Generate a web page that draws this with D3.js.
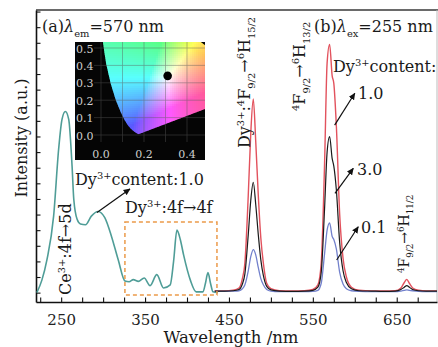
<!DOCTYPE html>
<html>
<head>
<meta charset="utf-8">
<script src="https://cdn.jsdelivr.net/npm/d3@7"></script>
<style>
body { margin: 0; background: #fff; }
svg { display: block; font-family: "DejaVu Serif", serif; }
</style>
</head>
<body>
<div id="chart"></div>
<script>
// (a) excitation spectrum, lambda_em = 570 nm
const excWave = [221, 227, 233, 241, 247, 251, 255, 259, 263, 265, 269, 273, 279, 286, 294, 302, 310, 318, 326, 331,
    336, 342, 349, 356, 364, 372, 380, 384, 388, 392, 396, 404, 411, 419, 422, 425, 428, 431, 437];
const excInt = [0, 0.8, 2.1, 4.9, 9.2, 11.1, 11.6, 11.1, 8.1, 6.0, 4.7, 4.4, 4.35, 4.9, 5.2, 4.8, 3.6, 2.1, 0.75, 0.7,
    0.83, 0.72, 0.94, 0.45, 1.15, 0.3, 0.5, 2.0, 4.0, 3.4, 2.4, 0.8, 0.05, 0.05, 0.6, 1.28, 0.6, 0.05, 0.0];

// (b) emission spectra, lambda_ex = 255 nm
const emWave = [433, 445, 455, 462, 466, 469, 473, 476, 479, 482, 485, 488, 491, 495, 500, 510, 525, 540, 550, 556,
    560, 564, 567, 570, 573, 575, 578, 582, 586, 590, 596, 605, 620, 635, 648, 655, 659, 662, 665, 669, 676, 685, 698];
const emRed = [0.1, 0.1, 0.15, 0.3, 0.9, 1.9, 6.2, 10.2, 12.4, 9.6, 6.2, 3.5, 1.9, 0.6, 0.25, 0.12, 0.1, 0.12, 0.2, 0.5,
    1.9, 8.3, 14.7, 15.9, 13.9, 13.4, 10.7, 5.0, 2.2, 1.0, 0.35, 0.15, 0.1, 0.1, 0.12, 0.3, 0.65, 0.85, 0.6, 0.3, 0.15, 0.1, 0.1];
const emBlack = [0.1, 0.1, 0.12, 0.2, 0.55, 1.2, 3.7, 5.9, 7.07, 5.6, 3.7, 2.1, 1.1, 0.4, 0.18, 0.1, 0.08, 0.1, 0.15, 0.35,
    1.3, 5.4, 9.0, 10.0, 8.6, 8.1, 6.6, 3.2, 1.4, 0.65, 0.25, 0.12, 0.1, 0.08, 0.1, 0.2, 0.35, 0.45, 0.35, 0.2, 0.12, 0.1, 0.1];
const emBlue = [0.08, 0.08, 0.1, 0.12, 0.25, 0.5, 1.4, 2.3, 2.75, 2.4, 1.6, 0.9, 0.5, 0.2, 0.1, 0.06, 0.06, 0.06, 0.08, 0.15,
    0.6, 2.5, 4.0, 4.47, 3.6, 3.4, 2.8, 1.3, 0.55, 0.25, 0.12, 0.08, 0.06, 0.06, 0.06, 0.1, 0.14, 0.18, 0.15, 0.12, 0.08, 0.06, 0.06];

const xTickValues = d3.range(225, 700, 25);
const xLabelValues = [250, 350, 450, 550, 650];
const yTickValues = d3.range(0, 19);

// CIE 1931 inset
const cieLocus = [[0.1741, 0.0050], [0.1714, 0.0051], [0.1644, 0.0109], [0.1566, 0.0177], [0.1440, 0.0297],
    [0.1355, 0.0399], [0.1241, 0.0578], [0.1096, 0.0868], [0.0913, 0.1327], [0.0687, 0.2007], [0.0454, 0.2950],
    [0.0235, 0.4127], [0.0082, 0.5384], [0.0039, 0.6548], [0.0139, 0.7502], [0.0743, 0.8338], [0.1547, 0.8059],
    [0.2296, 0.7543], [0.3016, 0.6923], [0.3731, 0.6245], [0.4441, 0.5547], [0.5125, 0.4866], [0.5752, 0.4242],
    [0.6270, 0.3725], [0.6915, 0.3083], [0.7260, 0.2740], [0.7347, 0.2653]];
const cieTicksX = [0, 0.2, 0.4];
const cieTicksY = [0, 0.1, 0.2, 0.3, 0.4, 0.5];
const cieGridX = [0, 0.1, 0.2, 0.3, 0.4];
const cieGridY = [0, 0.1, 0.2, 0.3, 0.4, 0.5];
const samplePoint = [0.31, 0.34];

const width = 438, height = 347;
const svg = d3.select("#chart").append("svg")
    .attr("width", width)
    .attr("height", height);

const defs = svg.append("defs");
defs.append("marker")
    .attr("id", "arrow")
    .attr("viewBox", "0 0 10 10")
    .attr("refX", 9).attr("refY", 5)
    .attr("markerWidth", 7).attr("markerHeight", 7)
    .attr("markerUnits", "userSpaceOnUse")
    .attr("orient", "auto")
    .append("path").attr("d", "M0,0.5L10,5L0,9.5z").attr("fill", "#111");

const x = d3.scaleLinear().domain([220, 698]).range([36, 437]);
const y = d3.scaleLinear().domain([-0.6, 18.1]).range([302, 10]);

// frame
svg.append("line").attr("x1", 36).attr("x2", 438).attr("y1", 10).attr("y2", 10)
    .attr("stroke", "#6a6a6a").attr("stroke-width", 2);
svg.append("line").attr("x1", 437).attr("x2", 437).attr("y1", 10).attr("y2", 302)
    .attr("stroke", "#bbb").attr("stroke-width", 1);

const xAxis = d3.axisBottom(x)
    .tickValues(xTickValues)
    .tickSizeInner(-4.5).tickSizeOuter(0).tickPadding(12)
    .tickFormat(d => xLabelValues.includes(d) ? d : "");
const yAxis = d3.axisLeft(y)
    .tickValues(yTickValues)
    .tickSizeInner(-4.5).tickSizeOuter(0)
    .tickFormat("");

const gx = svg.append("g").attr("transform", "translate(0,302)").call(xAxis);
const gy = svg.append("g").attr("transform", "translate(36,0)").call(yAxis);
[gx, gy].forEach(g => {
    g.select(".domain").attr("stroke", "#111").attr("stroke-width", 1.6);
    g.selectAll(".tick line").attr("stroke", "#111").attr("stroke-width", 1.1);
    g.selectAll("text").attr("font-family", "DejaVu Serif").attr("font-size", 15).attr("fill", "#222");
});

// spectra
const line = (wave, vals) => d3.line()
    .x((d, i) => x(wave[i]))
    .y(d => y(d))
    .curve(d3.curveMonotoneX)(vals);

svg.append("path").attr("d", line(excWave, excInt))
    .attr("fill", "none").attr("stroke", "#4f9d97").attr("stroke-width", 1.6);
svg.append("path").attr("d", line(emWave, emRed))
    .attr("fill", "none").attr("stroke", "#e2525d").attr("stroke-width", 1.4);
svg.append("path").attr("d", line(emWave, emBlue))
    .attr("fill", "none").attr("stroke", "#7280cc").attr("stroke-width", 1.3);
svg.append("path").attr("d", line(emWave, emBlack))
    .attr("fill", "none").attr("stroke", "#1a1a1a").attr("stroke-width", 1.2);

// dashed box around the Dy 4f-4f lines
svg.append("rect")
    .attr("x", x(326)).attr("y", y(4.52))
    .attr("width", x(435.7) - x(326)).attr("height", y(-0.15) - y(4.52))
    .attr("fill", "none").attr("stroke", "#eb9a4a").attr("stroke-width", 1.5)
    .attr("stroke-dasharray", "4,3");

// arrows
const arrows = [
    [[292.7, 5.13], [332, 6.64]],
    [[576, 10.73], [600, 12.77]],
    [[576.4, 6.36], [598.2, 7.96]],
    [[578.4, 2.09], [604.1, 4.22]]
];
arrows.forEach(([a, b]) => {
    svg.append("line")
        .attr("x1", x(a[0])).attr("y1", y(a[1]))
        .attr("x2", x(b[0])).attr("y2", y(b[1]))
        .attr("stroke", "#111").attr("stroke-width", 1.2)
        .attr("marker-end", "url(#arrow)");
});

// text with sup / sub parts
function richText(parent, parts, size, px, py, rotate) {
    const t = parent.append("text")
        .attr("font-size", size)
        .attr("fill", "#1a1a1a")
        .attr("transform", `translate(${px},${py})` + (rotate ? " rotate(-90)" : ""));
    let shift = 0;
    parts.forEach(([s, k]) => {
        const target = k === "sup" ? -0.38 * size : k === "sub" ? 0.3 * size : 0;
        const ts = t.append("tspan").attr("dy", target - shift).text(s);
        if (k === "sup" || k === "sub") ts.attr("font-size", size * 0.62);
        if (k === "i") ts.attr("font-style", "italic");
        shift = target;
    });
    return t;
}

richText(svg, [["(a)", ""], ["λ", "i"], ["em", "sub"], ["=570 nm", ""]], 16, 42, 32);
richText(svg, [["(b)", ""], ["λ", "i"], ["ex", "sub"], ["=255 nm", ""]], 16, 314, 32);
richText(svg, [["Dy", ""], ["3+", "sup"], ["content:", ""]], 16, 333, 72);
richText(svg, [["1.0", ""]], 16, 358, 99);
richText(svg, [["3.0", ""]], 16, 357, 175);
richText(svg, [["0.1", ""]], 16, 361, 233);
richText(svg, [["Dy", ""], ["3+", "sup"], ["content:1.0", ""]], 16, 75, 185);
richText(svg, [["Dy", ""], ["3+", "sup"], [":4f→4f", ""]], 16, 125, 213);
richText(svg, [["Dy", ""], ["3+", "sup"], [":", ""], ["4", "sup"], ["F", ""], ["9/2", "sub"], ["→", ""],
    ["6", "sup"], ["H", ""], ["15/2", "sub"]], 16, 250, 148, true);
richText(svg, [["4", "sup"], ["F", ""], ["9/2", "sub"], ["→", ""], ["6", "sup"], ["H", ""], ["13/2", "sub"]],
    16, 305, 111, true);
richText(svg, [["4", "sup"], ["F", ""], ["9/2", "sub"], ["→", ""], ["6", "sup"], ["H", ""], ["11/2", "sub"]],
    14, 409, 273, true);
richText(svg, [["Ce", ""], ["3+", "sup"], [":4f→5d", ""]], 16, 71, 295, true);

// axis titles
svg.append("text")
    .attr("transform", "translate(27,138) rotate(-90)")
    .attr("text-anchor", "middle").attr("font-size", 16).attr("fill", "#1a1a1a")
    .text("Intensity (a.u.)");
svg.append("text")
    .attr("x", 231).attr("y", 343)
    .attr("text-anchor", "middle").attr("font-size", 16.5).attr("fill", "#1a1a1a")
    .text("Wavelength /nm");

// ---- CIE inset ----
const box = {x: 75, y: 42, w: 130, h: 118};
const cx = d3.scaleLinear().domain([0, 0.4]).range([101, 187]);
const cy = d3.scaleLinear().domain([0, 0.5]).range([135, 48]);

const inset = svg.append("g");
inset.append("rect")
    .attr("x", box.x).attr("y", box.y).attr("width", box.w).attr("height", box.h)
    .attr("fill", "#050505");

defs.append("clipPath").attr("id", "boxclip").append("rect")
    .attr("x", box.x).attr("y", box.y).attr("width", box.w).attr("height", box.h);
defs.append("clipPath").attr("id", "locusclip").append("path")
    .attr("d", d3.line().x(d => cx(d[0])).y(d => cy(d[1]))(cieLocus) + "Z");

function xyToRgb(xv, yv) {
    const X = xv / yv, Y = 1, Z = (1 - xv - yv) / yv;
    let r = 3.2406 * X - 1.5372 * Y - 0.4986 * Z;
    let g = -0.9689 * X + 1.8758 * Y + 0.0415 * Z;
    let b = 0.0557 * X - 0.2040 * Y + 1.0570 * Z;
    r = Math.max(r, 0); g = Math.max(g, 0); b = Math.max(b, 0);
    const m = Math.max(r, g, b);
    // a little white added so the centre reads pale, as in the figure
    const gam = c => {
        c = 0.1 + 0.9 * c / m;
        return Math.round(255 * (c <= 0.0031308 ? 12.92 * c : 1.055 * Math.pow(c, 1 / 2.4) - 0.055));
    };
    return `rgb(${gam(r)},${gam(g)},${gam(b)})`;
}

const cells = [];
for (let px = 92; px < box.x + box.w; px += 2) {
    for (let py = box.y; py < 140; py += 2) {
        const xv = cx.invert(px + 1), yv = cy.invert(py + 1);
        if (yv > 0.002 && xv > -0.01) cells.push({px, py, c: xyToRgb(xv, yv)});
    }
}
inset.append("g").attr("clip-path", "url(#boxclip)")
    .append("g").attr("clip-path", "url(#locusclip)")
    .selectAll("rect").data(cells).enter().append("rect")
    .attr("x", d => d.px).attr("y", d => d.py)
    .attr("width", 2.3).attr("height", 2.3)
    .attr("fill", d => d.c);

const grid = inset.append("g").attr("stroke", "#5a5a5a").attr("stroke-width", 0.7).attr("opacity", 0.6);
grid.selectAll("line.v").data(cieGridX).enter().append("line")
    .attr("x1", d => cx(d)).attr("x2", d => cx(d))
    .attr("y1", box.y).attr("y2", 142);
grid.selectAll("line.h").data(cieGridY).enter().append("line")
    .attr("x1", 94).attr("x2", box.x + box.w)
    .attr("y1", d => cy(d)).attr("y2", d => cy(d));

inset.selectAll("text.yl").data(cieTicksY).enter().append("text")
    .attr("x", 76).attr("y", d => cy(d) + 4.5)
    .attr("font-size", 11).attr("fill", "#cfcfcf")
    .text(d => d.toFixed(1));
inset.selectAll("text.xl").data(cieTicksX).enter().append("text")
    .attr("x", d => cx(d)).attr("y", 158)
    .attr("text-anchor", "middle")
    .attr("font-size", 11).attr("fill", "#cfcfcf")
    .text(d => d.toFixed(1));

inset.append("circle")
    .attr("cx", cx(samplePoint[0])).attr("cy", cy(samplePoint[1]))
    .attr("r", 4.3).attr("fill", "#000");
</script>
</body>
</html>
